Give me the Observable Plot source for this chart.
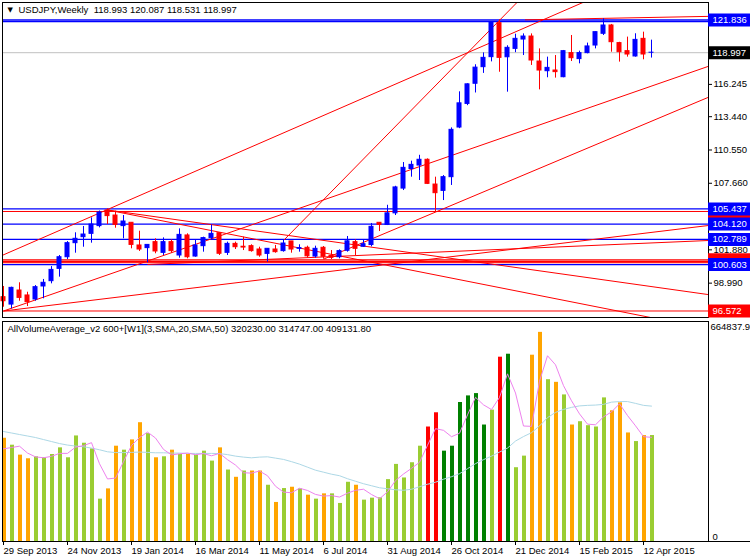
<!DOCTYPE html>
<html>
<head>
<meta charset="utf-8">
<script src="https://cdn.jsdelivr.net/npm/d3@7"></script>
<script src="https://cdn.jsdelivr.net/npm/@observablehq/plot@0.6"></script>
<style>
  body { margin: 0; background: #fff; }
  #wrap { position: relative; width: 750px; height: 560px; overflow: hidden; background: #fff; }
  #wrap svg { position: absolute; left: 0; }
</style>
</head>
<body>
<div id="wrap"></div>
<script>
// ---------- DATA ----------
const titleText = "USDJPY,Weekly  118.993 120.087 118.531 118.997";
const volTitle = "AllVolumeAverage_v2 600+[W1](3,SMA,20,SMA,50) 320230.00 314747.00 409131.80";

// weekly candles, week 0 = 29 Sep 2013
const open = [97.77,97.13,98.35,97.92,97.57,98.70,99.16,100.23,101.24,102.46,
  102.98,103.27,103.94,105.30,104.86,103.94,104.23,102.26,102.03,102.55,
  101.62,102.55,101.39,103.13,101.30,102.20,102.89,103.33,101.62,102.40,
  102.15,102.20,101.91,101.53,101.91,101.77,102.61,101.97,102.06,101.30,
  102.06,101.36,101.24,101.80,102.55,102.15,102.30,104.23,
  104.05,105.05,107.20,108.90,109.20,109.70,107.55,107.00,108.19,112.50,
  114.55,116.30,117.74,118.61,121.56,118.60,119.33,120.14,120.40,118.23,
  117.39,117.45,116.87,118.96,118.44,118.96,119.62,120.64,121.36,119.83,
  119.13,118.67,120.20,118.993];
const high = [98.70,98.64,99.02,98.20,98.78,99.31,100.43,101.39,102.60,103.36,
  103.91,104.66,105.25,105.44,105.24,104.86,104.23,103.50,102.31,102.84,
  102.92,102.75,103.70,103.27,102.69,102.98,104.05,103.33,102.55,102.55,
  102.98,102.32,102.11,101.97,102.26,102.75,102.61,102.32,102.20,102.20,
  102.17,101.82,101.88,103.04,102.75,102.69,104.17,104.23,
  105.75,107.40,109.46,109.58,110.09,109.78,108.19,108.33,112.47,115.60,
  116.30,117.95,118.98,121.69,121.85,119.60,120.60,120.63,120.63,119.33,
  118.61,118.75,119.19,120.49,119.13,119.83,120.80,121.94,121.45,119.90,
  120.35,120.64,120.78,120.087];
const low = [96.90,96.75,97.42,96.96,97.42,97.63,98.93,99.51,101.04,101.59,
  102.11,102.46,103.79,104.08,103.76,102.84,101.97,101.74,100.76,101.54,
  101.39,101.59,101.16,101.10,101.24,101.68,102.69,101.39,101.39,101.91,
  101.82,101.68,101.24,100.82,101.59,101.68,101.59,101.68,101.16,101.16,
  101.07,101.04,101.10,101.68,101.39,102.11,102.14,103.47,
  103.99,104.86,107.03,108.19,107.90,107.55,105.20,106.16,107.47,112.40,
  114.40,115.50,117.20,118.20,117.30,115.57,119.00,118.75,117.89,115.77,
  116.82,116.79,116.82,118.23,118.03,118.90,119.33,120.49,119.04,118.18,
  118.61,118.61,118.38,118.531];
const close = [97.42,98.58,97.71,97.34,98.64,99.02,100.14,101.24,102.46,102.84,
  103.21,104.08,105.12,104.81,104.05,104.34,102.31,101.91,102.31,101.74,
  102.55,101.77,103.18,101.24,102.26,102.90,103.27,101.54,102.40,102.11,
  102.08,101.77,101.39,101.97,101.68,102.43,101.91,102.03,101.32,101.97,
  101.28,101.19,101.77,102.62,101.97,102.37,103.88,104.05,
  105.05,107.30,109.00,109.26,109.70,107.61,106.80,108.19,112.30,114.60,
  116.25,117.70,118.55,121.65,118.55,119.42,120.20,120.40,118.32,117.45,
  117.68,117.31,119.13,118.52,118.96,119.54,120.78,121.36,119.91,119.04,
  118.84,120.11,118.84,118.997];

// volume (thousands) and its moving averages
const volumeK = [312,291,261,250,256,253,263,283,253,319,
  297,280,128,159,288,276,307,359,326,253,
  256,276,263,263,261,273,243,283,216,194,
  213,213,213,170,118,160,164,159,140,128,
  144,144,115,179,170,125,131,132,187,233,
  192,238,288,346,389,273,288,420,440,447,
  352,397,557,566,223,258,563,632,489,481,
  443,352,362,350,346,434,395,419,328,302,
  320,320.23];
const volClass = ("dudduuuuuu" + "uuudduddud" + "ududuuudud" + "uddudududu" +
  "duuuduuuuu" + "uuuDDUUUUU" + "UuDUuuddud" + "uduuuudddu" + "du").split("");
const ma3K = [280,284,288,267.3,255.7,253,257.3,266.3,266.3,285,
  289.7,298.7,235,189,191.7,241,290.3,314,330.7,312.7,
  278.3,261.7,265,267.3,262.3,265.7,259,266.3,247.3,231,
  207.7,206.7,213,198.7,167,149.3,147.3,161,154.3,142.3,
  137.3,138.7,134.3,146,154.7,158,142,129.3,150,184,
  204,221,239.3,290.7,341,336,316.7,327,382.7,435.7,
  413,398.7,435.3,506.7,448.7,349,348,484.3,561.3,534,
  471,425.3,385.7,354.7,352.7,376.7,391.7,416,380.7,349.7,
  316.7,314.747];
const ma20K = [332.4,327.9,323.3,318.8,314.2,308.1,302.1,296.0,291.4,288.4,
  286.3,282.3,277.2,271.1,268.7,268.7,269.3,270.2,269.3,268.1,
  268.1,267.2,267.2,266.2,266.2,266.2,266.2,265.6,262.6,258.0,
  255.0,252.9,255.0,255.9,252.0,248.0,241.3,233.8,224.6,215.5,
  209.5,203.4,198.8,189.7,182.1,174.6,168.5,162.4,159.4,156.3,
  154.8,157.9,165.5,173.0,179.1,188.2,195.8,204.9,220.1,235.3,
  247.4,258.0,270.2,282.3,303.6,317.2,328.8,349.1,374.3,390.1,
  399.2,405.3,409.8,411.4,412.3,414.4,421.1,422.9,422.9,417.4,
  411.4,409.1318];
const volMax = 664837.9;

// date axis
const xTickWeeks = [0, 8, 16, 24, 32, 40, 48, 56, 64, 72, 80];
const xTickLabels = ["29 Sep 2013", "24 Nov 2013", "19 Jan 2014", "16 Mar 2014", "11 May 2014",
  "6 Jul 2014", "31 Aug 2014", "26 Oct 2014", "21 Dec 2014", "15 Feb 2015", "12 Apr 2015"];

// price axis
const yTicks = [98.990, 101.880, 107.660, 110.550, 113.440, 116.245];
const bidLevel = 118.997;
const blueLevels = [121.836, 121.70, 105.437, 104.120, 102.789, 100.603];
const redLevels = [105.21, 101.02, 100.76, 96.572];
const redBoldLevels = [100.87];
const hiddenRedBoxes = [105.21, 101.02];   // labels covered by the blue ones
const redBoxes = [96.572];
const blueBoxes = [121.836, 105.437, 104.120, 102.789, 100.603];
const bidBoxes = [118.997];

// trend lines: week index / price end points
const trendLines = [
  {i1: -0.19, p1: 101.39, i2: 72.44, p2: 123.36},
  {i1: 35.0, p1: 102.69, i2: 64.19, p2: 123.36},
  {i1: 0.0, p1: 96.57, i2: 88.06, p2: 117.80},
  {i1: 0.0, p1: 96.57, i2: 88.06, p2: 103.99},
  {i1: 40.0, p1: 101.07, i2: 88.06, p2: 115.11},
  {i1: 13.0, p1: 105.34, i2: 88.06, p2: 98.00},
  {i1: 13.0, p1: 105.34, i2: 88.06, p2: 95.02},
  {i1: 18.0, p1: 100.61, i2: 88.06, p2: 102.69},
  {i1: 65.19, p1: 121.85, i2: 88.06, p2: 122.15}
];

// ---------- CHART ----------
const FONT = "'Liberation Sans', Arial, sans-serif";
const candles = open.map((o, k) => ({i: k, o, h: high[k], l: low[k], c: close[k]}));
const candleColor = d => d.c >= d.o ? "#0000ff" : "#ff0000";
const volColors = {d: "#ffa500", u: "#9acd32", U: "#008000", D: "#ff0000"};
const vol = volumeK.map((v, k) => ({i: k, v: v * 1000, cls: volClass[k], ma3: ma3K[k] * 1000, ma20: ma20K[k] * 1000}));
const fmt3 = d => d.toFixed(3);

const boxRule = (vals, color) =>
  Plot.ruleY(vals, {y: d => d, stroke: color, strokeWidth: 13, dx: 706});
const boxMarks = (vals, color) => [
  boxRule(vals, color),
  Plot.text(vals, {y: d => d, text: fmt3, frameAnchor: "right", dx: 4, textAnchor: "start", fill: "#fff", fontSize: 9.5})
];

const main = Plot.plot({
  width: 750, height: 320,
  marginLeft: 2, marginRight: 42, marginTop: 2, marginBottom: 3,
  style: {fontFamily: FONT, fontSize: "9.5px", background: "#fff", color: "#000"},
  x: {domain: [-0.125, 88.125], axis: null},
  y: {domain: [96.007, 123.355], axis: null},
  color: {type: "identity"},
  marks: [
    Plot.ruleY([bidLevel], {y: d => d, stroke: "#c0c0c0"}),
    Plot.ruleY(blueLevels, {y: d => d, stroke: "#0000ff", strokeWidth: 1.3}),
    Plot.ruleY(redLevels, {y: d => d, stroke: "#ff0000"}),
    Plot.ruleY(redBoldLevels, {y: d => d, stroke: "#ff0000", strokeWidth: 2.2}),
    Plot.link(trendLines, {x1: "i1", y1: "p1", x2: "i2", y2: "p2", stroke: "#ff0000", clip: true}),
    Plot.ruleX(candles, {x: "i", y1: "l", y2: "h", stroke: candleColor}),
    Plot.rect(candles, {x1: d => d.i - 0.25, x2: d => d.i + 0.25, y1: "o", y2: "c", fill: candleColor, stroke: candleColor}),
    Plot.frame({stroke: "#000"}),
    Plot.axisY(yTicks, {anchor: "right", tickSize: 3, tickPadding: 2, tickFormat: fmt3, label: null, fontSize: 9.5}),
    boxRule(hiddenRedBoxes, "#ff0000"),
    ...boxMarks(redBoxes, "#ff0000"),
    ...boxMarks(blueBoxes, "#0000ff"),
    ...boxMarks(bidBoxes, "#000000"),
    Plot.text(["\u25BC"], {frameAnchor: "top-left", dx: 5, dy: 5, fontSize: 7, fontFamily: "DejaVu Sans"}),
    Plot.text([titleText], {frameAnchor: "top-left", dx: 16, dy: 4})
  ]
});
main.style.top = "0px";

const volPlot = Plot.plot({
  width: 750, height: 240,
  marginLeft: 2, marginRight: 42, marginTop: 1, marginBottom: 19,
  style: {fontFamily: FONT, fontSize: "9.5px", background: "#fff", color: "#000"},
  x: {domain: [-0.125, 88.125], axis: null},
  y: {domain: [0, volMax], axis: null},
  color: {type: "identity"},
  marks: [
    Plot.ruleX(vol, {x: "i", y1: 0, y2: "v", stroke: d => volColors[d.cls], strokeWidth: 4, dx: 0.5}),
    Plot.line(vol, {x: "i", y: "ma20", stroke: "#add8e6", strokeWidth: 1}),
    Plot.line(vol, {x: "i", y: "ma3", stroke: "#ee82ee", strokeWidth: 1}),
    Plot.frame({stroke: "#000"}),
    Plot.axisX(xTickWeeks, {anchor: "bottom", tickSize: 4, tickPadding: 2, textAnchor: "start",
      tickFormat: d => xTickLabels[xTickWeeks.indexOf(d)], label: null, fontSize: 9.5}),
    Plot.text([volMax], {y: d => d, text: d => d.toFixed(1), frameAnchor: "right", dx: 2, textAnchor: "start", lineAnchor: "top", dy: 2}),
    Plot.text([0], {y: d => d, text: d => String(d), frameAnchor: "right", dx: 4, textAnchor: "start", dy: -5}),
    Plot.ruleY([0], {y: d => d, stroke: "#000", dx: 706, strokeWidth: 1}),
    Plot.text([volTitle], {frameAnchor: "top-left", dx: 5, dy: 4})
  ]
});
volPlot.style.top = "320px";

const wrap = document.getElementById("wrap");
wrap.appendChild(main);
wrap.appendChild(volPlot);
</script>
</body>
</html>
